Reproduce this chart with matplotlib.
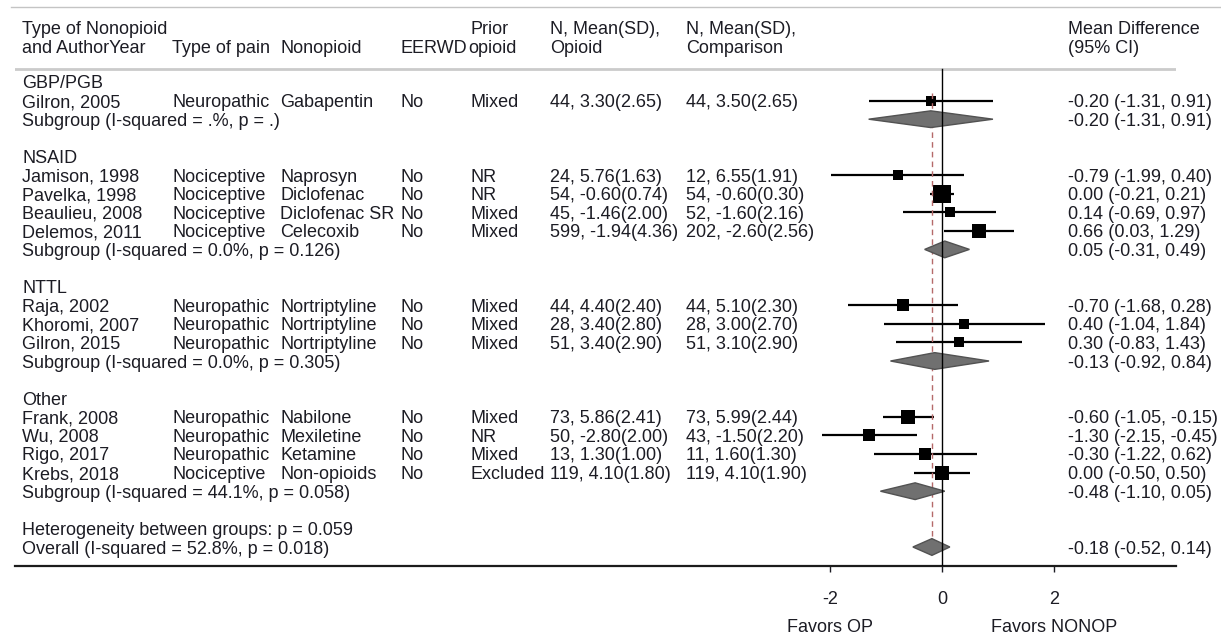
import matplotlib
matplotlib.use("Agg")
import matplotlib.pyplot as plt
from matplotlib.patches import Polygon
from matplotlib.lines import Line2D
from matplotlib.transforms import blended_transform_factory

plt.rcParams['font.family'] = ['Liberation Sans', 'DejaVu Sans']

# ---- data -------------------------------------------------------------
group_names = ["GBP/PGB", "NSAID", "NTTL", "Other"]
study_group = [0, 1, 1, 1, 1, 2, 2, 2, 3, 3, 3, 3]
study_labels = ["Gilron, 2005", "Jamison, 1998", "Pavelka, 1998", "Beaulieu, 2008",
                "Delemos, 2011", "Raja, 2002", "Khoromi, 2007", "Gilron, 2015",
                "Frank, 2008", "Wu, 2008", "Rigo, 2017", "Krebs, 2018"]
pain_type = ["Neuropathic", "Nociceptive", "Nociceptive", "Nociceptive", "Nociceptive",
             "Neuropathic", "Neuropathic", "Neuropathic", "Neuropathic", "Neuropathic",
             "Neuropathic", "Nociceptive"]
nonopioid = ["Gabapentin", "Naprosyn", "Diclofenac", "Diclofenac SR", "Celecoxib",
             "Nortriptyline", "Nortriptyline", "Nortriptyline", "Nabilone", "Mexiletine",
             "Ketamine", "Non-opioids"]
eerwd = ["No"] * 12
prior_opioid = ["Mixed", "NR", "NR", "Mixed", "Mixed", "Mixed", "Mixed", "Mixed",
                "Mixed", "NR", "Mixed", "Excluded"]
n_opioid = [44, 24, 54, 45, 599, 44, 28, 51, 73, 50, 13, 119]
mean_opioid = [3.30, 5.76, -0.60, -1.46, -1.94, 4.40, 3.40, 3.40, 5.86, -2.80, 1.30, 4.10]
sd_opioid = [2.65, 1.63, 0.74, 2.00, 4.36, 2.40, 2.80, 2.90, 2.41, 2.00, 1.00, 1.80]
n_comp = [44, 12, 54, 52, 202, 44, 28, 51, 73, 43, 11, 119]
mean_comp = [3.50, 6.55, -0.60, -1.60, -2.60, 5.10, 3.00, 3.10, 5.99, -1.50, 1.60, 4.10]
sd_comp = [2.65, 1.91, 0.30, 2.16, 2.56, 2.30, 2.70, 2.90, 2.44, 2.20, 1.30, 1.90]
mean_diff = [-0.20, -0.79, 0.00, 0.14, 0.66, -0.70, 0.40, 0.30, -0.60, -1.30, -0.30, 0.00]
ci_low = [-1.31, -1.99, -0.21, -0.69, 0.03, -1.68, -1.04, -0.83, -1.05, -2.15, -1.22, -0.50]
ci_high = [0.91, 0.40, 0.21, 0.97, 1.29, 0.28, 1.84, 1.43, -0.15, -0.45, 0.62, 0.50]
weights = [5.9, 4.7, 19.0, 5.9, 9.9, 7.1, 4.7, 5.9, 9.9, 8.4, 7.1, 11.5]

sub_i2 = [".%", "0.0%", "0.0%", "44.1%"]
sub_p = [".", "0.126", "0.305", "0.058"]
sub_md = [-0.20, 0.05, -0.13, -0.48]
sub_low = [-1.31, -0.31, -0.92, -1.10]
sub_high = [0.91, 0.49, 0.84, 0.05]

het_between_p = "0.059"
overall_i2 = "52.8%"
overall_p = "0.018"
overall_md, overall_low, overall_high = -0.18, -0.52, 0.14

x_ticks = [-2, 0, 2]
favors_left, favors_right = "Favors OP", "Favors NONOP"

# ---- figure / layout --------------------------------------------------
W, H = 1221, 639
fig = plt.figure(figsize=(W / 100, H / 100), dpi=100)
fig.patch.set_facecolor("white")

ax_left_px, ax_right_px, ax_bottom_px = 15, 1176, 566
zero_px, unit_px = 942, 56.0
row0_px, row_px = 82.0, 18.6

ax = fig.add_axes([ax_left_px / W, (H - ax_bottom_px) / H,
                   (ax_right_px - ax_left_px) / W, ax_bottom_px / H])
ax.set_xlim((ax_left_px - zero_px) / unit_px, (ax_right_px - zero_px) / unit_px)
y_bottom = (ax_bottom_px - row0_px) / row_px
ax.set_ylim(y_bottom, -row0_px / row_px)
ax.set_facecolor("none")

TXT = "#1c1c24"
FS = 13
col = blended_transform_factory(fig.transFigure, ax.transData)

def put(xpx, row, s, ha="left"):
    ax.text(xpx / W, row, s, transform=col, ha=ha, va="center_baseline",
            fontsize=FS, color=TXT, clip_on=False)

# header
put(22, -2.93, "Type of Nonopioid")
put(22, -1.93, "and AuthorYear")
put(172, -1.93, "Type of pain")
put(280, -1.93, "Nonopioid")
put(401, -1.93, "EERWD")
put(470, -2.93, "Prior")
put(468, -1.93, "opioid")
put(550, -2.93, "N, Mean(SD),")
put(550, -1.93, "Opioid")
put(686, -2.93, "N, Mean(SD),")
put(686, -1.93, "Comparison")
put(1068, -2.93, "Mean Difference")
put(1068, -1.93, "(95% CI)")

fig.add_artist(Line2D([11 / W, 1.0], [(H - 7) / H] * 2, color="#c4c4c4", lw=1.0))
ax.axhline(-0.70, color="#cbcbcb", lw=2.0)

# rows
row = 0
study_rows, sub_rows = [], []
for g, gname in enumerate(group_names):
    put(22, row, gname)
    row += 1
    for i in [k for k, sg in enumerate(study_group) if sg == g]:
        put(22, row, study_labels[i])
        put(172, row, pain_type[i])
        put(280, row, nonopioid[i])
        put(401, row, eerwd[i])
        put(470, row, prior_opioid[i])
        put(550, row, f"{n_opioid[i]}, {mean_opioid[i]:.2f}({sd_opioid[i]:.2f})")
        put(686, row, f"{n_comp[i]}, {mean_comp[i]:.2f}({sd_comp[i]:.2f})")
        put(1068, row, f"{mean_diff[i]:.2f} ({ci_low[i]:.2f}, {ci_high[i]:.2f})")
        study_rows.append(row)
        row += 1
    put(22, row, f"Subgroup (I-squared = {sub_i2[g]}, p = {sub_p[g]})")
    put(1068, row, f"{sub_md[g]:.2f} ({sub_low[g]:.2f}, {sub_high[g]:.2f})")
    sub_rows.append(row)
    row += 2

het_row = row
overall_row = row + 1
put(22, het_row, f"Heterogeneity between groups: p = {het_between_p}")
put(22, overall_row, f"Overall (I-squared = {overall_i2}, p = {overall_p})")
put(1068, overall_row, f"{overall_md:.2f} ({overall_low:.2f}, {overall_high:.2f})")

# reference lines
ax.plot([0, 0], [-0.70, y_bottom], color="black", lw=1.0, zorder=7)
ax.plot([overall_md, overall_md], [study_rows[0] - 0.42, overall_row - 0.44],
        color="#b56a6a", lw=1.0, ls=(0, (4, 3)), zorder=5)

# study estimates
for r, m, lo, hi, w in zip(study_rows, mean_diff, ci_low, ci_high, weights):
    ax.plot([lo, hi], [r, r], color="black", lw=1.6, solid_capstyle="butt", zorder=3)
    side_pt = 4.2 * w ** 0.5 * 0.72
    ax.scatter([m], [r], marker="s", s=side_pt ** 2, color="black", lw=0, zorder=4)

# pooled diamonds
half_h = 0.45
def diamond(r, m, lo, hi):
    ax.add_patch(Polygon([(lo, r), (m, r - half_h), (hi, r), (m, r + half_h)],
                         closed=True, facecolor="#707070", edgecolor="#525252",
                         lw=1.0, zorder=6))

for r, m, lo, hi in zip(sub_rows, sub_md, sub_low, sub_high):
    diamond(r, m, lo, hi)
diamond(overall_row, overall_md, overall_low, overall_high)

# axis
for s in ["top", "right", "left"]:
    ax.spines[s].set_visible(False)
ax.spines["bottom"].set_color("#1c1c1c")
ax.spines["bottom"].set_linewidth(1.6)
ax.set_yticks([])
ax.set_xticks(x_ticks)
ax.set_xticklabels([str(t) for t in x_ticks])
ax.tick_params(axis="x", length=4, width=1.0, pad=14, labelsize=FS, colors=TXT)

fav = blended_transform_factory(ax.transData, fig.transFigure)
ax.text(x_ticks[0], (H - 625) / H, favors_left, transform=fav, ha="center",
        va="center_baseline", fontsize=FS, color=TXT)
ax.text(x_ticks[-1], (H - 625) / H, favors_right, transform=fav, ha="center",
        va="center_baseline", fontsize=FS, color=TXT)

fig.savefig("out.png", dpi=100, facecolor="white")
